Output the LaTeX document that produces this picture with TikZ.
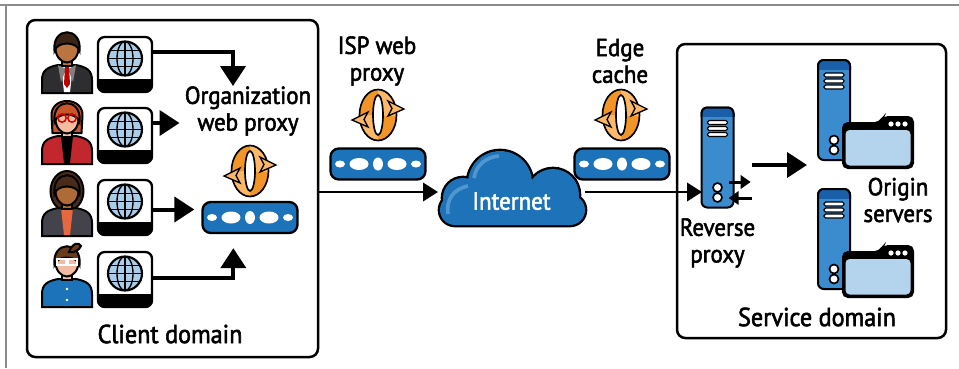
\documentclass[tikz,border=0pt]{standalone}
\usepackage{fontspec}
\setmainfont{PT Sans}[FakeBold=2.2, FakeStretch=0.93]
\usetikzlibrary{arrows.meta, positioning, calc}

\definecolor{proxyblue}{HTML}{1C73BA}
\definecolor{cloudblue}{HTML}{1E72B8}
\definecolor{cloudlight}{HTML}{4F97D0}
\definecolor{towerblue}{HTML}{3A8CCF}
\definecolor{towertop}{HTML}{1A5FAA}
\definecolor{paleblue}{HTML}{B4D4ED}
\definecolor{globeblue}{HTML}{A9CDE8}
\definecolor{ringlight}{HTML}{FBB868}
\definecolor{ringdark}{HTML}{F39526}
\definecolor{framegray}{HTML}{8C8C8C}
\definecolor{suitgray}{HTML}{2E2E30}
\definecolor{jacketred}{HTML}{C1272D}
\definecolor{jacketgray}{HTML}{44434B}
\definecolor{shirtorange}{HTML}{E7683E}
\definecolor{shirtblue}{HTML}{1C73BA}
\definecolor{skintan}{HTML}{B97440}
\definecolor{skinbrown}{HTML}{AE6B38}
\definecolor{skinlight}{HTML}{F3BCA2}
\definecolor{hairdark}{HTML}{3B2316}
\definecolor{hairred}{HTML}{C9552B}
\definecolor{haircurl}{HTML}{4A2A18}
\definecolor{hairbrown}{HTML}{6A3B1D}

\tikzset{
  % head-and-shoulders figure: skin, hair, coat, shirt
  pics/person/.style n args={4}{code={
    \filldraw[fill=#3, line width=1.2pt] (-25,45) -- (-25,32) .. controls (-25,22) and (-19,19) .. (-9,17) -- (9,17) .. controls (19,19) and (25,22) .. (25,32) -- (25,45) -- cycle;
    \fill[#4] (-6,17) -- (6,17) -- (3,44) -- (-3,44) -- cycle;
    \filldraw[fill=#1, line width=1pt] (-5,8) rectangle (5,18);
    \filldraw[fill=#1, line width=1.2pt] (0,0) ellipse (11.5 and 14.5);
    \filldraw[fill=#2, line width=1.2pt] (-12.5,3) .. controls (-15.5,-22) and (15.5,-22) .. (12.5,3) .. controls (10,-7) and (-10,-7) .. (-12.5,3) -- cycle;
  }},
  % browser screen with a globe
  pics/screen/.style={code={
    \filldraw[fill=white, line width=1.4pt, rounded corners=4pt] (-27,-27.5) rectangle (27,27.5);
    \begin{scope}
      \clip (-30,15) rectangle (30,30);
      \fill[rounded corners=4pt] (-27,-27.5) rectangle (27,27.5);
    \end{scope}
    \begin{scope}[shift={(0,-6)}]
      \fill[globeblue] (0,0) circle (17);
      \begin{scope}
        \clip (0,0) circle (17);
        \draw[line width=0.8pt] (-17,-8) -- (17,-8) (-17,0) -- (17,0) (-17,8) -- (17,8) (0,-17) -- (0,17);
        \draw[line width=0.8pt] (0,0) ellipse (8 and 17);
      \end{scope}
      \draw[line width=1.3pt] (0,0) circle (17);
    \end{scope}
  }},
  % rotating cache ring, two-tone quarters
  pics/cyclemark/.style={code={
    \foreach \qx/\qy/\qc in {-1/-1/ringdark, 1/1/ringdark, -1/1/ringlight, 1/-1/ringlight} {
      \begin{scope}
        \clip (0,0) rectangle (30*\qx,30*\qy);
        \fill[\qc, even odd rule] (0,0) ellipse (18.5 and 25.5) (0,0) ellipse (5 and 20);
      \end{scope}
    }
    \draw[line width=1pt] (0,0) ellipse (18.5 and 25.5) (0,0) ellipse (5 and 20);
    \filldraw[fill=ringlight, line width=0.8pt] (10,-14) -- (26,-6) -- (10,1) -- (14,-6.5) -- cycle;
    \filldraw[fill=ringlight, line width=0.8pt] (-10,-3) -- (-26,5) -- (-10,12) -- (-14,4.5) -- cycle;
  }},
  % server tower
  pics/tower/.style={code={
    \filldraw[fill=towerblue, line width=1.2pt, rounded corners=3.5pt] (-16,-50) rectangle (16,50);
    \begin{scope}
      \clip (-20,-54) rectangle (20,-41);
      \filldraw[fill=towertop, line width=1.2pt, rounded corners=3.5pt] (-16,-50) rectangle (16,50);
    \end{scope}
    \foreach \yy in {-35,-29,-23}
      \filldraw[fill=white, line width=0.7pt, rounded corners=1pt] (-10,\yy-2) rectangle (10,\yy+2);
    \filldraw[fill=white, line width=1pt] (0,30) circle (4.5) (0,40) circle (4.5);
  }},
  % application window
  pics/appwindow/.style={code={
    \filldraw[line width=1.2pt, rounded corners=3pt] (-35,25) -- (-35,-20) -- (2,-20) -- (5,-26) -- (35,-26) -- (35,25) -- cycle;
    \fill[paleblue, rounded corners=2.5pt] (-32.5,-13) rectangle (32.5,22.5);
    \fill[white] (13,-19) circle (2.6) (20,-19) circle (2.6) (27,-19) circle (2.6);
  }}
}

\begin{document}
\begin{tikzpicture}[x=0.6pt, y=-0.6pt,
    lbl/.style={font=\fontsize{14.8}{16}\selectfont, align=center, inner sep=0pt},
    domainlbl/.style={font=\fontsize{15.6}{17}\selectfont, inner sep=0pt},
    domainbox/.style={draw, line width=1.5pt, rounded corners=5pt, inner sep=0pt},
    slot/.style={inner sep=0pt, outer sep=0pt},
    proxybar/.style={draw, fill=proxyblue, line width=1.4pt, rounded corners=5pt, minimum width=57pt, minimum height=18.6pt, inner sep=0pt},
    arrow/.style={-{Triangle[length=12pt,width=15pt]}, line width=2.4pt},
    link/.style={-{Triangle[length=9pt,width=11pt]}, line width=1.6pt},
    smallarrow/.style={-{Triangle[length=6pt,width=8pt]}, line width=1.8pt}]

    \useasboundingbox (0,0) rectangle (959,368);
    \draw[framegray, line width=0.9pt] (0,5) -- (959,5) (6,5) -- (6,368);

    % domains
    \node[domainbox, minimum width=174.6pt, minimum height=202.2pt] (client) at (172.5,188.5) {};
    \node[domainbox, minimum width=161.4pt, minimum height=176.4pt] (service) at (811.5,191) {};
    \node[domainlbl] (clientlabel) at (170,334) {Client domain};
    \node[domainlbl] (servicelabel) at (817,317) {Service domain};

    % people
    \begin{scope}[shift={(67,48)}]
      \pic {person={skintan}{hairdark}{suitgray}{white}};
      \fill[gray] (-9,17) -- (-1,21) -- (-6,34) -- cycle;
      \fill[gray] (9,17) -- (1,21) -- (6,34) -- cycle;
      \fill[red!75!black] (-2,19) -- (2,19) -- (3,36) -- (0,40) -- (-3,36) -- cycle;
    \end{scope}
    \begin{scope}[shift={(67,119)}]
      \filldraw[fill=hairred, line width=1.2pt] (-14.5,14) -- (-15.5,-3) .. controls (-16.5,-23) and (16.5,-23) .. (15.5,-3) -- (14.5,14) -- cycle;
      \pic {person={skinlight}{hairred}{jacketred}{black}};
      \draw[red!85!black, line width=0.9pt] (-5,-1) circle (4.2) (5,-1) circle (4.2);
    \end{scope}
    \begin{scope}[shift={(67,191)}]
      \filldraw[fill=haircurl, line width=1.2pt] (0,0) ellipse (16.5 and 20);
      \pic {person={skinbrown}{haircurl}{jacketgray}{shirtorange}};
    \end{scope}
    \begin{scope}[shift={(67,262)}]
      \pic {person={skinlight}{hairbrown}{shirtblue}{shirtblue}};
      \filldraw[fill=hairbrown, line width=1.2pt] (2,-10) .. controls (6,-20) and (12,-20) .. (14,-16) .. controls (12,-12) and (8,-9) .. (2,-10) -- cycle;
      \draw[white, line width=1.1pt] (-10,-3) rectangle (-1,3) (1,-3) rectangle (10,3);
      \fill[white] (0,27) circle (1.3) (0,38) circle (1.3);
    \end{scope}

    % browsers
    \foreach \i/\y in {1/64.5, 2/135.5, 3/207.5, 4/279.5} {
      \pic at (125,\y) {screen};
      \node[slot, minimum width=32.4pt, minimum height=33pt] (mon\i) at (125,\y) {};
    }

    % proxies and caches
    \node[proxybar] (orgproxy) at (250,217.5) {};
    \node[proxybar] (ispproxy) at (378,164) {};
    \node[proxybar] (edgeproxy) at (622,164) {};
    \foreach \b in {orgproxy, ispproxy, edgeproxy}
      \foreach \dx/\rx/\ry in {-38/5/3.5, -19/9.5/6, 0/5/6.5, 19/9.5/6, 38/5/3.5}
        \fill[white] ($(\b)+(\dx,0)$) ellipse [x radius=\rx, y radius=\ry];
    \pic at (250,171) {cyclemark};
    \pic at (378,115) {cyclemark};
    \pic at (621,115) {cyclemark};
    \node[lbl] (orglabel) at (248,111) {Organization\\web proxy};
    \node[lbl] (isplabel) at (377,61) {ISP web\\proxy};
    \node[lbl] (edgelabel) at (620,61) {Edge\\cache};

    % internet
    \draw[line width=2.8pt, rounded corners=9pt] (440,195) rectangle (585,225);
    \draw[line width=2.8pt] (463,198) circle (20) (500,183) circle (32) (553,195) circle (26);
    \fill[cloudblue, rounded corners=9pt] (440,195) rectangle (585,225);
    \fill[cloudblue] (463,198) circle (20) (500,183) circle (32) (553,195) circle (26);
    \draw[cloudlight, line width=2.2pt] (448,214) .. controls (446,200) and (453,189) .. (468,186);
    \draw[cloudlight, line width=2.2pt] (474,178) .. controls (476,165) and (486,157) .. (499,156);
    \node[slot, minimum width=88.2pt, minimum height=40pt,
      label={[lbl, text=white, yshift=-5.5pt]center:Internet}] (internet) at (511.5,192) {};

    % servers
    \pic at (717.5,157.5) {tower};
    \node[slot, minimum width=18.6pt, minimum height=60.6pt] (rp) at (717.5,157.5) {};
    \draw[smallarrow] ([xshift=-2.4pt, yshift=-14.7pt]rp.east) -- ++(13pt,0);
    \draw[smallarrow] ([xshift=11.4pt, yshift=-24.3pt]rp.east) -- ++(-14pt,0);
    \node[lbl, below=6pt of rp] (rplabel) {Reverse\\proxy};
    \pic at (834,110) {tower};
    \pic at (878,143) {appwindow};
    \node[slot, minimum width=19.2pt, minimum height=60pt] (origin1) at (834,110) {};
    \pic at (834,239) {tower};
    \pic at (878,272) {appwindow};
    \node[slot, minimum width=19.2pt, minimum height=60pt] (origin2) at (834,239) {};
    \node[lbl] (originlabel) at (898,200) {Origin\\servers};

    % requests
    \draw[arrow] ([yshift=7.5pt]mon1.east) -| ([xshift=-9pt]orglabel.north);
    \draw[arrow, shorten >=3pt] ([yshift=7.5pt]mon2.east) -- ([yshift=7.5pt]mon2.east -| orglabel.west);
    \draw[arrow, shorten >=4.2pt] ([yshift=-1.2pt]mon3.east) -- ([yshift=-1.2pt]mon3.east -| orgproxy.west);
    \draw[arrow, shorten >=8.4pt] ([yshift=0.9pt]mon4.east) -| ([xshift=-10pt]orgproxy.south);
    \draw[link] (client.east |- internet.west) -- (internet.west);
    \draw[link] (internet.east) -- (internet.east -| rp.west);
    \draw[arrow, shorten <=11.4pt, shorten >=6.6pt] ([yshift=-4.5pt]rp.east) -- ([yshift=-4.5pt]rp.east -| origin1.west);

\end{tikzpicture}
\end{document}
